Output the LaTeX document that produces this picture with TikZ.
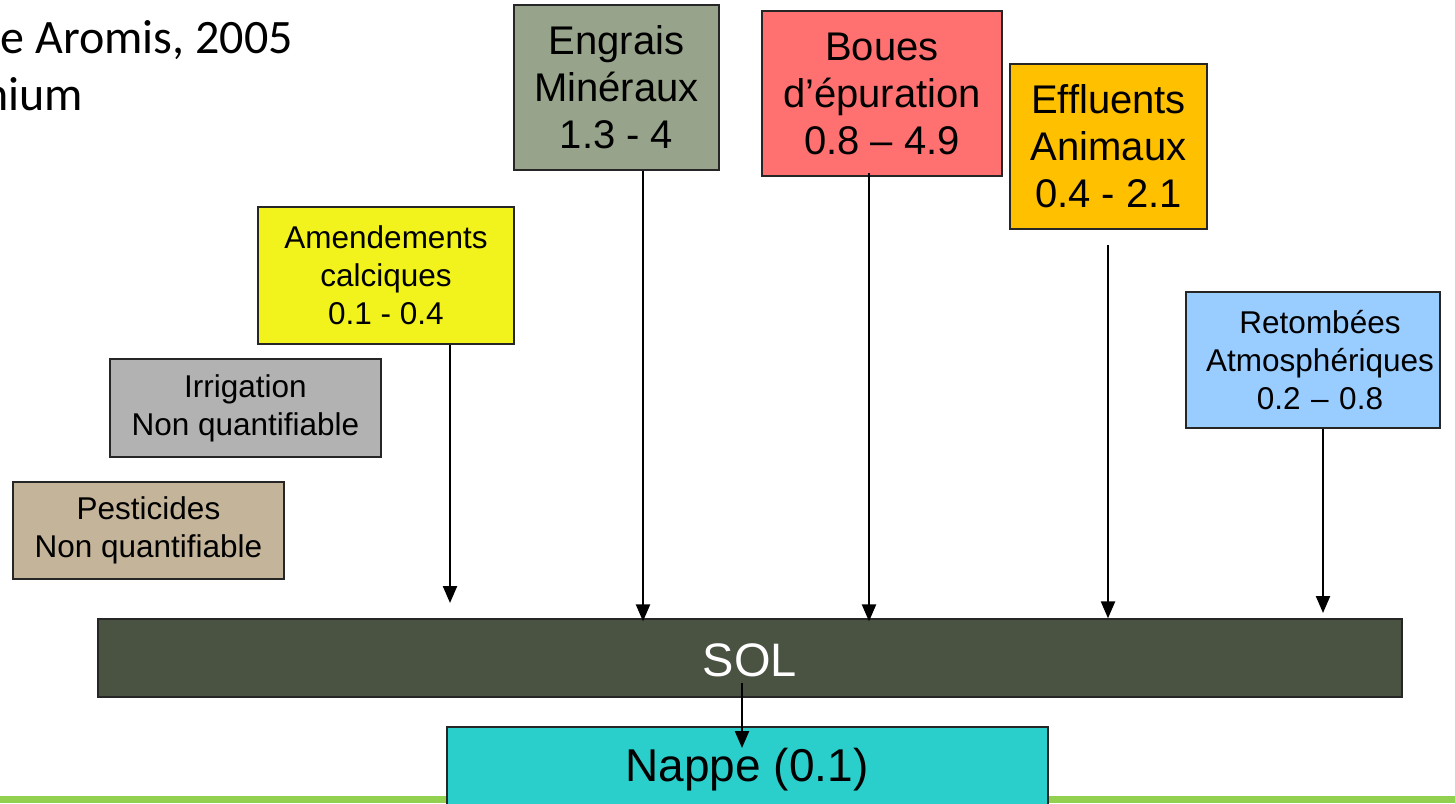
\documentclass[tikz,border=0pt]{standalone}
\usepackage{fontspec}
\setmainfont{Liberation Sans}
\newfontfamily\calib{Carlito}
\usetikzlibrary{arrows.meta}
\definecolor{cEng}{HTML}{97A38A}
\definecolor{cBou}{HTML}{FF7171}
\definecolor{cEff}{HTML}{FFC000}
\definecolor{cAme}{HTML}{F2F21C}
\definecolor{cIrr}{HTML}{B2B2B2}
\definecolor{cPes}{HTML}{C4B49A}
\definecolor{cRet}{HTML}{99CCFF}
\definecolor{cSol}{HTML}{4A5242}
\definecolor{cNap}{HTML}{2ACFCB}
\definecolor{cGreen}{HTML}{92D050}
\tikzset{
  box/.style={draw=black!85, line width=1.3pt, align=center, inner sep=0pt},
  big/.style={font=\fontsize{40}{47}\selectfont},
  small/.style={font=\fontsize{31.5}{38}\selectfont},
  arr/.style={-{Triangle[length=17pt,width=14pt]}, line width=2.3pt, black},
}
\begin{document}
\begin{tikzpicture}[x=1pt,y=-1pt]
\useasboundingbox (0,0) rectangle (1455,803);
\clip (0,0) rectangle (1455,803);
\fill[white] (0,0) rectangle (1455,803);
% green bar
\fill[cGreen] (0,796) rectangle (1455,803);
% top-left text
\node[font=\calib\fontsize{48}{57}\selectfont, anchor=base east, inner sep=0pt] (t1) at (293,53) {e Aromis, 2005};
\node[font=\calib\fontsize{48}{57}\selectfont, anchor=base east, inner sep=0pt] (t2) at (83,110) {nium};
% boxes
\node[box, big, fill=cEng, minimum width=205pt, minimum height=165pt] (eng) at (616.5,87.5) {Engrais\\Minéraux\\1.3 - 4};
\node[box, big, fill=cBou, minimum width=240pt, minimum height=165pt] (bou) at (882,93.5) {Boues\\d’épuration\\0.8 – 4.9};
\node[box, big, fill=cEff, minimum width=197pt, minimum height=165pt] (eff) at (1108.5,146.5) {Effluents\\Animaux\\0.4 - 2.1};
\node[box, small, fill=cAme, minimum width=256pt, minimum height=137pt] (ame) at (386,275.5) {Amendements\\calciques\\0.1 - 0.4};
\node[box, small, fill=cIrr, minimum width=271pt, minimum height=98pt] (irr) at (245.5,408) {Irrigation\\Non quantifiable};
\node[box, small, fill=cPes, minimum width=271pt, minimum height=97pt] (pes) at (148.5,530.5) {Pesticides\\Non quantifiable};
\node[box, small, fill=cRet, minimum width=254pt, minimum height=136pt, text width=254pt, align=center] (ret) at (1313,360) {\hspace*{14pt}Retombées\\\hspace*{14pt}Atmosphériques\\\hspace*{14pt}0.2 – 0.8};
\node[box, fill=cSol, minimum width=1304pt, minimum height=78pt] (sol) at (750,658) {};
\node[text=white, font=\fontsize{47}{56}\selectfont, inner sep=0pt] (soltxt) at (750,660) {SOL};
\node[box, fill=cNap, minimum width=601pt, minimum height=90pt] (nap) at (747.5,772) {};
\node[font=\fontsize{46}{56}\selectfont, inner sep=0pt] (naptxt) at (747,770) {Nappe (0.1)};
% arrow coordinates
\coordinate (xa) at (450,0);
\coordinate (xe) at (643,0);
\coordinate (xb) at (869,0);
\coordinate (xf) at (1108,0);
\coordinate (xr) at (1323,0);
\coordinate (aend) at (450,603);
\coordinate (fstart) at (1108,245);
\coordinate (rend) at (1323,613);
\coordinate (s1) at (742,683);
\coordinate (s2) at (742,748);
% arrows
\draw[arr] (ame.south -| xa) -- (aend);
\draw[arr] (eng.south -| xe) -- ([yshift=-3pt]xe |- sol.north);
\draw[arr] ([yshift=4pt]bou.south -| xb) -- ([yshift=-3pt]xb |- sol.north);
\draw[arr] (fstart) -- (xf |- sol.north);
\draw[arr] (ret.south -| xr) -- (rend);
\draw[arr] (s1) -- (s2);
\end{tikzpicture}
\end{document}
